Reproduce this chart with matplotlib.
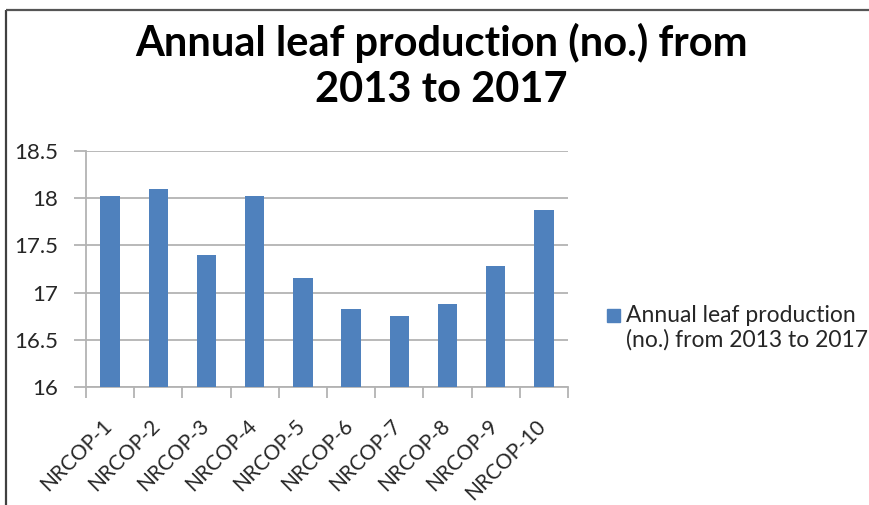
import matplotlib.pyplot as plt
from matplotlib.patches import Rectangle

genotypes = ["NRCOP-1", "NRCOP-2", "NRCOP-3", "NRCOP-4", "NRCOP-5",
             "NRCOP-6", "NRCOP-7", "NRCOP-8", "NRCOP-9", "NRCOP-10"]
leaf_prod = [18.02, 18.10, 17.40, 18.02, 17.15, 16.83, 16.75, 16.88, 17.28, 17.88]
yticks = [16, 16.5, 17, 17.5, 18, 18.5]
ytick_labels = ["16", "16.5", "17", "17.5", "18", "18.5"]
series_name = "Annual leaf production\n(no.) from 2013 to 2017"

plt.rcParams['font.family'] = ['Lato', 'DejaVu Sans']
bar_color = "#4F81BD"
grid_color = "#B3B3B3"
text_color = "#262626"

fig = plt.figure(figsize=(8.7, 5.05), dpi=100)
ax = fig.add_axes([86/870, 1 - 387/505, (568 - 86)/870, (387 - 151)/505])

x = list(range(len(genotypes)))
ax.bar(x, [v - 16 for v in leaf_prod], bottom=16, width=0.4, color=bar_color,
       zorder=3, label=series_name)
ax.set_xlim(-0.5, len(genotypes) - 0.5)
ax.set_ylim(16, 18.5)

ax.set_yticks(yticks)
ax.set_yticklabels(ytick_labels, fontsize=16, color=text_color)
ax.yaxis.grid(True, color=grid_color, linewidth=1.3, zorder=0)
ax.tick_params(axis='y', length=9, width=1.3, color=grid_color, pad=11)

# category ticks sit on the boundaries; names are placed by hand below
ax.set_xticks([i - 0.5 for i in range(len(genotypes) + 1)])
ax.set_xticklabels([])
ax.tick_params(axis='x', which='major', length=8, width=1.3, color=grid_color)
for i, name in zip(x, genotypes):
    ax.annotate(name, xy=(i, 0), xycoords=('data', 'axes fraction'),
                xytext=(-1, -36), textcoords='offset pixels',
                rotation=45, ha='right', va='center', rotation_mode='anchor',
                fontsize=15, color=text_color, annotation_clip=False)

for side in ['top', 'right']:
    ax.spines[side].set_visible(False)
for side in ['left', 'bottom']:
    ax.spines[side].set_color(grid_color)
    ax.spines[side].set_linewidth(1.3)

fig.text(0.507, 1 - 66/505, "Annual leaf production (no.) from\n2013 to 2017",
         ha='center', va='center', fontsize=30, fontweight='bold',
         linespacing=1.25, color="#000000")

# legend entry at the right
fig.patches.append(Rectangle((607/870, 1 - 322/505), 13/870, 13/505,
                             transform=fig.transFigure, color=bar_color))
fig.text(626/870, 1 - 328/505, series_name, ha='left', va='center',
         fontsize=16.5, color=text_color, linespacing=1.2)

# chart frame (left and top edges only)
fig.add_artist(plt.Line2D([6/870, 6/870], [0, 1 - 10/505], transform=fig.transFigure,
                          color="#404040", linewidth=1.6, solid_capstyle='butt'))
fig.add_artist(plt.Line2D([6/870, 1.01], [1 - 10/505, 1 - 10/505], transform=fig.transFigure,
                          color="#555555", linewidth=1.6, solid_capstyle='butt'))

fig.savefig("out.png", dpi=100)
